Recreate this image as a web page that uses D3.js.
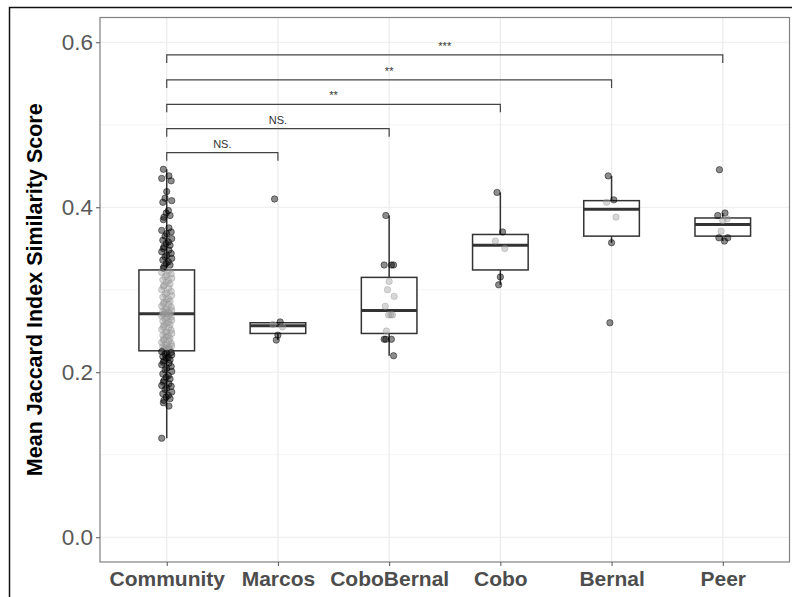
<!DOCTYPE html>
<html>
<head>
<meta charset="utf-8">
<script src="https://cdn.jsdelivr.net/npm/d3@7"></script>
<style>
  body { margin: 0; background: #fff; }
  svg { display: block; font-family: "Liberation Sans", Arial, sans-serif; }
</style>
</head>
<body>
<svg id="chart" width="792" height="597"></svg>
<script>
const groups = ['Community', 'Marcos', 'CoboBernal', 'Cobo', 'Bernal', 'Peer'];

// box stats: [whiskerLow, q1, median, q3, whiskerHigh]
const boxStats = [
  [0.120, 0.226, 0.271, 0.324, 0.446],
  [0.239, 0.247, 0.2565, 0.260, 0.261],
  [0.220, 0.247, 0.275, 0.315, 0.390],
  [0.306, 0.324, 0.354, 0.367, 0.418],
  [0.357, 0.365, 0.3976, 0.408, 0.438],
  [0.359, 0.365, 0.379, 0.387, 0.393]
];

const communityScores = [
  0.446, 0.438, 0.435, 0.432, 0.419, 0.411, 0.408, 0.406, 0.396, 0.393, 0.390, 0.388, 0.385,
  0.375, 0.372, 0.370, 0.368, 0.365, 0.362, 0.360, 0.358, 0.356, 0.354, 0.352, 0.350, 0.348,
  0.346, 0.344, 0.342, 0.340, 0.338, 0.336, 0.334, 0.332, 0.330, 0.328, 0.326,
  0.323, 0.321, 0.319, 0.318, 0.316, 0.314, 0.312, 0.311, 0.309, 0.307, 0.305, 0.304, 0.302,
  0.300, 0.298, 0.296, 0.295, 0.293, 0.291, 0.289, 0.288, 0.286, 0.285, 0.283, 0.282, 0.280,
  0.279, 0.278, 0.276, 0.275, 0.274, 0.273, 0.272, 0.271, 0.271, 0.270, 0.269, 0.268, 0.267,
  0.266, 0.265, 0.263, 0.262, 0.261, 0.259, 0.258, 0.257, 0.255, 0.254, 0.252, 0.251, 0.249,
  0.248, 0.247, 0.245, 0.244, 0.243, 0.241, 0.240, 0.239, 0.238, 0.236, 0.235, 0.234, 0.233,
  0.232, 0.231, 0.230, 0.229, 0.228, 0.228, 0.227, 0.227,
  0.225, 0.224, 0.223, 0.222, 0.221, 0.219, 0.218, 0.217, 0.215, 0.214, 0.212, 0.211, 0.209,
  0.207, 0.205, 0.203, 0.201, 0.198, 0.196, 0.194, 0.192, 0.190, 0.188, 0.186, 0.184, 0.183,
  0.181, 0.179, 0.176, 0.174, 0.172, 0.170, 0.168, 0.166, 0.163, 0.159, 0.120
];
const marcosScores = [0.410, 0.261, 0.258, 0.255, 0.245, 0.239];
const coboBernalScores = [0.390, 0.330, 0.330, 0.330, 0.310, 0.300, 0.292, 0.280, 0.2695, 0.2695, 0.2695, 0.250, 0.240, 0.240, 0.240, 0.220];
const coboScores = [0.418, 0.370, 0.359, 0.350, 0.3155, 0.306];
const bernalScores = [0.438, 0.409, 0.406, 0.388, 0.357, 0.260];
const peerScores = [0.4455, 0.393, 0.390, 0.386, 0.384, 0.371, 0.363, 0.363, 0.359];
const scores = [communityScores, marcosScores, coboBernalScores, coboScores, bernalScores, peerScores];

// jitter pattern (fraction of category step), reused cyclically
const jitter = [-0.03, 0.02, -0.045, 0.04, 0.0, -0.015, 0.045, -0.035, 0.015, -0.005, 0.03, -0.025];

// significance brackets: [fromGroup, toGroup, yLevel, label]
const sigFrom = ['Community', 'Community', 'Community', 'Community', 'Community'];
const sigTo = ['Marcos', 'CoboBernal', 'Cobo', 'Bernal', 'Peer'];
const sigY = [0.4662, 0.4953, 0.5248, 0.5543, 0.5846];
const sigLabels = ['NS.', 'NS.', '**', '**', '***'];

const yTicks = [0.0, 0.2, 0.4, 0.6];
const yMinor = [0.1, 0.3, 0.5];

const svg = d3.select('#chart');
const panel = {left: 100, right: 789.5, top: 17.5, bottom: 562};

// outer frame
svg.append('rect')
  .attr('x', 9.5).attr('y', 7.5)
  .attr('width', 800).attr('height', 620)
  .attr('fill', 'none').attr('stroke', '#111').attr('stroke-width', 1.5);

const x = d3.scalePoint().domain(groups)
  .range([panel.left, panel.right]).padding(0.6);
const y = d3.scaleLinear().domain([-0.03, 0.63])
  .range([panel.bottom, panel.top]);
const step = x.step();

// grid
const grid = svg.append('g');
grid.selectAll('.minor').data(yMinor).enter().append('line')
  .attr('x1', panel.left).attr('x2', panel.right)
  .attr('y1', d => y(d)).attr('y2', d => y(d))
  .attr('stroke', '#f2f2f2').attr('stroke-width', 0.8);
grid.selectAll('.major').data(yTicks).enter().append('line')
  .attr('x1', panel.left).attr('x2', panel.right)
  .attr('y1', d => y(d)).attr('y2', d => y(d))
  .attr('stroke', '#ebebeb').attr('stroke-width', 1.2);
grid.selectAll('.vx').data(groups).enter().append('line')
  .attr('x1', d => x(d)).attr('x2', d => x(d))
  .attr('y1', panel.top).attr('y2', panel.bottom)
  .attr('stroke', '#ebebeb').attr('stroke-width', 1.2);

// boxplots
const boxW = step * 0.5;
const boxes = svg.selectAll('.box').data(groups).enter().append('g');
boxes.append('line')
  .attr('x1', d => x(d)).attr('x2', d => x(d))
  .attr('y1', (d, i) => y(boxStats[i][0])).attr('y2', (d, i) => y(boxStats[i][4]))
  .attr('stroke', '#333').attr('stroke-width', 1.5);
boxes.append('rect')
  .attr('x', d => x(d) - boxW / 2).attr('width', boxW)
  .attr('y', (d, i) => y(boxStats[i][3]))
  .attr('height', (d, i) => y(boxStats[i][1]) - y(boxStats[i][3]))
  .attr('fill', '#fff').attr('stroke', '#333').attr('stroke-width', 1.5);
boxes.append('line')
  .attr('x1', d => x(d) - boxW / 2).attr('x2', d => x(d) + boxW / 2)
  .attr('y1', (d, i) => y(boxStats[i][2])).attr('y2', (d, i) => y(boxStats[i][2]))
  .attr('stroke', '#333').attr('stroke-width', 3);

// jittered points
const pts = [];
groups.forEach((g, gi) => {
  scores[gi].forEach((v, k) => {
    const inside = v >= boxStats[gi][1] && v <= boxStats[gi][3];
    pts.push({g, v, j: jitter[k % jitter.length], inside});
  });
});
svg.append('g').selectAll('circle').data(pts).enter().append('circle')
  .attr('cx', d => x(d.g) + d.j * step)
  .attr('cy', d => y(d.v))
  .attr('r', 3.2)
  .attr('fill', d => d.inside ? '#999' : '#000')
  .attr('fill-opacity', d => d.inside ? 0.4 : 0.45)
  .attr('stroke', d => d.inside ? '#999' : '#000')
  .attr('stroke-opacity', d => d.inside ? 0.4 : 0.45)
  .attr('stroke-width', 1);

// significance brackets
const tickLen = 8;
const sig = svg.append('g');
sigY.forEach((lv, i) => {
  const x1 = x(sigFrom[i]), x2 = x(sigTo[i]), yy = y(lv);
  sig.append('path')
    .attr('d', `M${x1},${yy + tickLen}V${yy}H${x2}V${yy + tickLen}`)
    .attr('fill', 'none').attr('stroke', '#444').attr('stroke-width', 1.2);
  sig.append('text')
    .attr('x', (x1 + x2) / 2).attr('y', yy - 5)
    .attr('text-anchor', 'middle')
    .attr('font-size', 11).attr('fill', '#333')
    .text(sigLabels[i]);
});

// panel border
svg.append('rect')
  .attr('x', panel.left).attr('y', panel.top)
  .attr('width', panel.right - panel.left).attr('height', panel.bottom - panel.top)
  .attr('fill', 'none').attr('stroke', '#808080').attr('stroke-width', 1.2);

// axes
const yAxis = svg.append('g')
  .attr('transform', `translate(${panel.left},0)`)
  .call(d3.axisLeft(y).tickValues(yTicks).tickFormat(d3.format('.1f')).tickSize(4).tickPadding(3));
yAxis.select('.domain').remove();
yAxis.selectAll('line').attr('stroke', '#555');
yAxis.selectAll('text').attr('font-size', 22.5).attr('fill', '#595959')
  .attr('font-family', '"Liberation Sans", Arial, sans-serif');

const xAxis = svg.append('g')
  .attr('transform', `translate(0,${panel.bottom})`)
  .call(d3.axisBottom(x).tickSize(4).tickPadding(5));
xAxis.select('.domain').remove();
xAxis.selectAll('line').attr('stroke', '#555');
xAxis.selectAll('text').attr('font-size', 21).attr('font-weight', 'bold').attr('fill', '#4d4d4d')
  .attr('font-family', '"Liberation Sans", Arial, sans-serif');

svg.append('text')
  .attr('transform', `translate(42,${(panel.top + panel.bottom) / 2}) rotate(-90)`)
  .attr('text-anchor', 'middle')
  .attr('font-size', 21.5).attr('font-weight', 'bold').attr('fill', '#000')
  .text('Mean Jaccard Index Similarity Score');
</script>
</body>
</html>
